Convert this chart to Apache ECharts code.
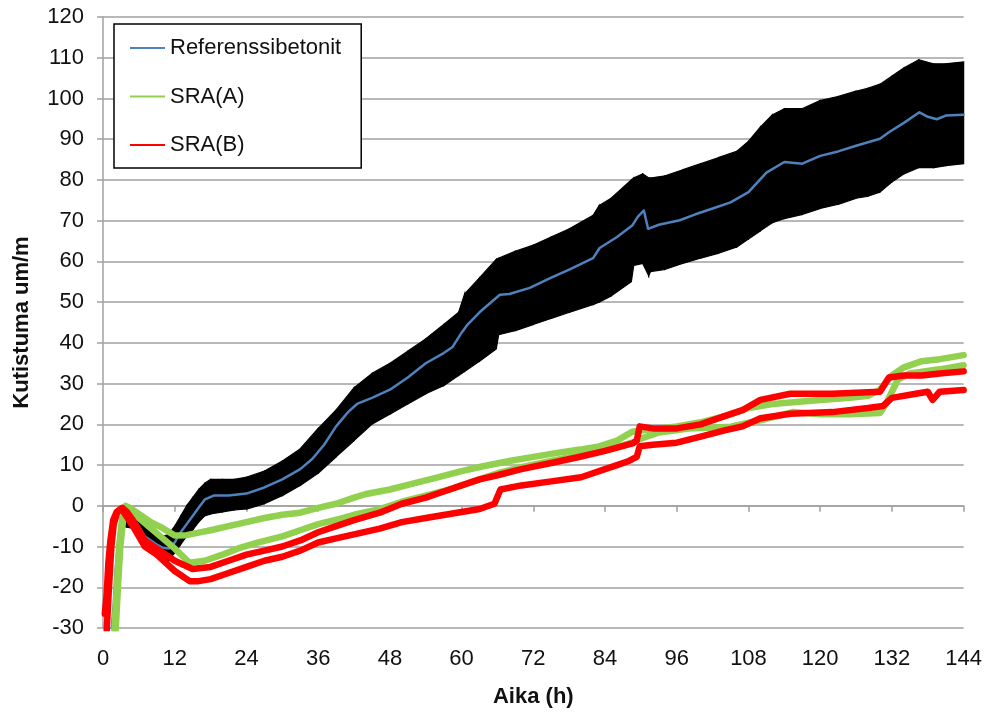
<!DOCTYPE html>
<html>
<head>
<meta charset="utf-8">
<script src="https://cdn.jsdelivr.net/npm/echarts@6/dist/echarts.min.js"></script>
<style>html,body{margin:0;padding:0;background:#fff}#c{width:985px;height:713px}</style>
</head>
<body>
<div id="c"></div>
<script>
var xTicks = [0, 12, 24, 36, 48, 60, 72, 84, 96, 108, 120, 132, 144];
var yTicks = [-30, -20, -10, 0, 10, 20, 30, 40, 50, 60, 70, 80, 90, 100, 110, 120];

// Referenssibetonit (mean line)
var refX = [1.4, 1.8, 2.1, 2.5, 2.9, 3.3, 3.8, 5, 6, 7, 8, 9, 10, 11, 12, 13, 14, 15, 16, 17, 18.5, 21, 24, 27, 30, 33, 35, 37, 39, 41, 42.5, 45, 48, 51, 54, 57, 58.5, 60, 61, 63, 66.4, 68, 71.4, 75, 78, 82, 83.1, 86, 88.6, 89.5, 90.5, 91.2, 93, 96.5, 99, 102, 105, 108, 111, 114, 117, 120, 123, 126, 130, 131.5, 134, 136.6, 138, 139.5, 141, 144];
var refY = [-31, -24, -16, -9, -4, -1.5, -1, -3, -5, -7.5, -8.5, -9.5, -10.3, -10.5, -9, -6.5, -4.5, -2.5, -0.5, 1.5, 2.5, 2.5, 3, 4.5, 6.5, 9, 11.5, 15, 19.5, 23, 25, 26.5, 28.5, 31.5, 35, 37.5, 39, 42.5, 44.5, 47.5, 51.8, 52, 53.5, 56, 58, 60.8, 63.3, 66, 68.9, 71, 72.5, 68, 69, 70.1, 71.5, 73, 74.5, 77, 81.8, 84.4, 84, 85.9, 87, 88.4, 90.1, 91.7, 94, 96.6, 95.5, 94.9, 95.8, 96];

// Referenssibetonit raw signal envelope (black band)
var bandX = [3, 5, 7, 9, 10, 11, 12, 13, 14, 15, 16, 17, 18, 20, 22, 24, 27, 30, 33, 36, 39, 42, 45, 48, 51, 54, 57, 59.5, 60.5, 63, 65.8, 66.2, 69, 72, 75, 78, 82, 83, 85, 88.4, 88.8, 90.3, 91.3, 91.6, 94, 97, 100, 103, 106, 108, 110, 112, 114, 117, 120, 123, 126, 128, 130, 132, 134, 136.5, 139, 141, 144];
var bandLo = [-5, -5.5, -9.5, -12.5, -13.5, -13.5, -11.5, -9.5, -7.5, -6, -4, -2.5, -2, -1.5, -1, -0.8, 0.5, 2.5, 5, 8, 12, 16, 20, 22.5, 25, 27.5, 29.5, 32, 33, 35.5, 38.5, 42, 43, 44.5, 46, 47.5, 49.4, 50, 51.5, 55, 59, 59.5, 56.5, 57.5, 58, 59.5, 60.8, 62, 63.5, 65.5, 67.5, 69.5, 70.5, 71.5, 73, 74, 75.5, 76, 77, 79.5, 81.5, 83, 83, 83.5, 84];
var bandHi = [-0.5, -1.5, -5, -7, -7.5, -7, -5, -2.5, 0, 2, 4, 5.5, 6.5, 6.5, 6.5, 7, 8.5, 11, 14, 19, 23.5, 29, 32.5, 35, 38, 41, 44.5, 47.5, 52, 56, 60.5, 60.8, 62.5, 64, 66, 68, 71.3, 73.7, 75.5, 80, 80.5, 81.5, 80.5, 80.5, 81, 82.5, 84, 85.5, 87, 89.5, 93, 96, 97.5, 97.5, 99.5, 100.5, 101.8, 102.5, 103.5, 105.5, 107.5, 109.5, 108.5, 108.5, 109];

// SRA(A) specimen 1 and 2
var aUpX = [1.9, 2.3, 2.7, 3.2, 3.8, 4.5, 6, 8, 10, 12, 14, 16, 18, 21, 24, 27, 30, 33, 36, 39, 42, 44, 48, 52, 56, 60, 63.6, 68, 72, 76, 79.8, 83, 86, 88.6, 90, 96, 100, 104, 108, 112, 116, 120, 125, 128, 130, 132, 134, 137, 140, 144];
var aUpY = [-31, -20, -10, -3, 0, -0.5, -2, -4, -5.5, -7.3, -7.2, -6.6, -6, -5, -4, -3, -2.2, -1.7, -0.5, 0.5, 2, 2.9, 4, 5.5, 7, 8.5, 9.7, 11, 12, 13, 13.8, 14.6, 16, 18.2, 18.5, 19.5, 20.5, 22, 24, 25, 25.5, 26, 26.5, 27, 28.5, 32, 34, 35.5, 36, 37];
var aLoX = [2.1, 2.5, 2.9, 3.4, 4, 5, 6, 8, 10, 12, 14.5, 17, 20, 22.9, 26, 30, 33, 36, 39.6, 42, 46.3, 50, 54, 58, 62, 66, 70, 75, 80, 85, 88.5, 90, 93, 98, 105, 110, 115.4, 120, 125, 130, 131, 132, 133, 135, 140, 144];
var aLoY = [-31, -20, -10, -3, -0.5, -2, -3, -5.5, -8, -10.5, -14, -13.5, -12, -10.3, -9, -7.5, -6, -4.5, -3.2, -2.2, -0.8, 1, 2.5, 4, 6, 8, 9.5, 11, 12.5, 14, 15.5, 16.5, 18, 19, 19.4, 21, 23, 22.5, 22.5, 22.8, 25, 28, 31, 32.5, 33.5, 34.5];

// SRA(B) specimen 1 and 2
var bUpX = [0.3, 0.6, 0.9, 1.2, 1.7, 2.3, 3.2, 4, 5, 7, 9, 12, 15, 18, 21, 24, 27, 30, 33, 36, 39, 42, 46.3, 50, 54, 57, 60, 63, 66, 70, 75, 80, 84, 88.6, 89.3, 89.8, 92, 96, 100, 104, 107, 110, 115, 122, 130, 131.5, 134, 137, 140, 144];
var bUpY = [-26.5, -22, -14, -9, -3.5, -1.5, -0.5, -1.5, -3.5, -8.5, -10.5, -13.5, -15.5, -15, -13.5, -12, -11, -10, -8.5, -6.5, -5, -3.5, -1.7, 0.5, 2, 3.5, 5, 6.5, 7.5, 9, 10.5, 12.1, 13.5, 15.3, 16, 19.5, 19, 19, 20, 22, 23.5, 26, 27.5, 27.5, 28, 31.5, 32, 32, 32.5, 33];
var bLoX = [0.6, 1.0, 1.4, 1.8, 2.4, 3.1, 3.9, 5, 7, 9, 12, 14.5, 16, 18, 21, 24, 27, 30, 33, 36, 39, 42, 46.3, 50, 54, 58, 63, 65.5, 66.5, 70, 75, 80, 84, 86, 88, 89.3, 89.8, 92, 96, 100, 104, 107, 110, 115, 122, 128, 130.5, 132, 136, 138, 138.8, 140, 144];
var bLoY = [-31, -20, -10, -4.5, -1.5, -0.8, -2.5, -5, -10, -12, -16, -18.5, -18.5, -18, -16.5, -15, -13.5, -12.5, -11, -9, -8, -7, -5.6, -4, -3, -2, -0.8, 0.5, 4, 5, 6, 7, 9, 10, 11, 12, 14.6, 15, 15.5, 17, 18.5, 19.5, 21.5, 22.6, 23, 24, 24.5, 26.5, 27.5, 28, 26, 28, 28.4];

function pairs(xs, ys) { return xs.map(function (x, i) { return [x, ys[i]]; }); }

var FONT = 'Liberation Sans';
var FS = 22;
var chart = echarts.init(document.getElementById('c'), null, { renderer: 'canvas' });

function lineSeries(name, xs, ys, color, width) {
  return {
    name: name, type: 'line', data: pairs(xs, ys), symbol: 'none', showSymbol: false,
    lineStyle: { color: color, width: width, join: 'round', cap: 'round' },
    itemStyle: { color: color }, silent: true, animation: false, clip: true
  };
}

chart.setOption({
  animation: false,
  backgroundColor: '#fff',
  grid: { left: 103, right: 21, top: 17, bottom: 80, containLabel: false },
  legend: {
    data: ['Referenssibetonit', 'SRA(A)', 'SRA(B)'],
    orient: 'vertical', left: 114, top: 24,
    backgroundColor: '#fff', borderColor: '#000', borderWidth: 1.5,
    padding: [13, 20, 12, 16],
    itemGap: 26.5, itemWidth: 35, itemHeight: 2, icon: 'rect',
    textStyle: { fontFamily: FONT, fontSize: FS, color: '#111', lineHeight: 22 },
    selectedMode: false
  },
  xAxis: {
    type: 'value', min: 0, max: 144, interval: 12,
    name: 'Aika (h)', nameLocation: 'middle', nameGap: 58,
    nameTextStyle: { fontFamily: FONT, fontSize: FS, fontWeight: 'bold', color: '#111' },
    axisLine: { show: true, lineStyle: { color: '#a0a0a0', width: 1.5 } },
    axisTick: { show: true, length: 6, lineStyle: { color: '#a0a0a0', width: 1.5 } },
    axisLabel: { fontFamily: FONT, fontSize: FS, color: '#111', margin: 20 },
    splitLine: { show: false }
  },
  yAxis: {
    type: 'value', min: -30, max: 120, interval: 10,
    name: 'Kutistuma um/m', nameLocation: 'middle', nameGap: 70, nameRotate: 90,
    nameTextStyle: { fontFamily: FONT, fontSize: FS, fontWeight: 'bold', color: '#111' },
    axisLine: { show: true, lineStyle: { color: '#a0a0a0', width: 1.5 } },
    axisTick: { show: true, length: 6, lineStyle: { color: '#a0a0a0', width: 1.5 } },
    axisLabel: { fontFamily: FONT, fontSize: FS, color: '#111', margin: 19 },
    splitLine: { show: true, lineStyle: { color: '#a0a0a0', width: 1.5 } }
  },
  series: [
    {
      type: 'custom', name: 'band', silent: true, animation: false,
      data: bandX.map(function (x, i) { return [x, bandLo[i], bandHi[i]]; }),
      encode: { x: 0, y: [1, 2] },
      renderItem: function (params, api) {
        var i = params.dataIndex;
        if (i >= bandX.length - 1) return null;
        var a = api.coord([bandX[i], bandLo[i]]);
        var b = api.coord([bandX[i + 1], bandLo[i + 1]]);
        var c = api.coord([bandX[i + 1], bandHi[i + 1]]);
        var d = api.coord([bandX[i], bandHi[i]]);
        return { type: 'polygon', shape: { points: [a, b, c, d] }, style: { fill: '#000', stroke: '#000', lineWidth: 1.2 } };
      }
    },
    lineSeries('Referenssibetonit', refX, refY, '#4F81BD', 2.5),
    lineSeries('SRA(A)', aUpX, aUpY, '#92D050', 6.5),
    lineSeries('SRA(A)', aLoX, aLoY, '#92D050', 6.5),
    lineSeries('SRA(B)', bUpX, bUpY, '#FF0000', 6.5),
    lineSeries('SRA(B)', bLoX, bLoY, '#FF0000', 6.5)
  ]
});
</script>
</body>
</html>
